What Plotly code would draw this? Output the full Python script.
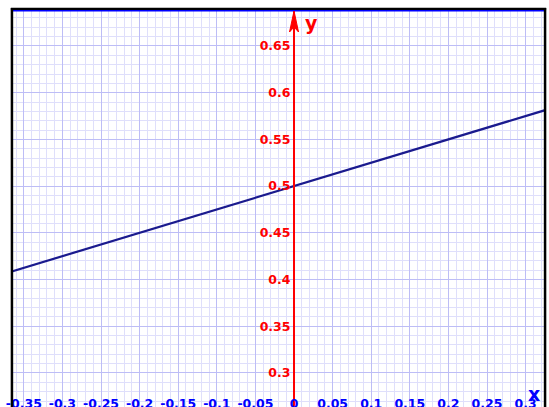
import plotly.graph_objects as go

# ---- data ----
x_tick_vals = [-0.35, -0.3, -0.25, -0.2, -0.15, -0.1, -0.05, 0, 0.05, 0.1, 0.15, 0.2, 0.25, 0.3]
x_tick_text = ["-0.35", "-0.3", "-0.25", "-0.2", "-0.15", "-0.1", "-0.05", "0",
               "0.05", "0.1", "0.15", "0.2", "0.25", "0.3"]
y_tick_vals = [0.3, 0.35, 0.4, 0.45, 0.5, 0.55, 0.6, 0.65]
y_tick_text = ["0.3", "0.35", "0.4", "0.45", "0.5", "0.55", "0.6", "0.65"]

line_x = [-0.365, 0.33]
line_y = [0.4088, 0.5825]

X_RANGE = [-0.364, 0.3238]
Y_RANGE = [0.2636, 0.6885]

W, H = 549, 407
ML, MR, MT, MB = 13, 5, 10, 0

major_grid = "#bdbdf6"
minor_grid = "#dfdffb"
font_fam = "DejaVu Sans"

fig = go.Figure()
fig.add_trace(go.Scatter(
    x=line_x, y=line_y, mode="lines",
    line=dict(color="#1a1a8e", width=2.2),
    hoverinfo="skip", showlegend=False,
))

fig.update_layout(
    width=W, height=H, autosize=False,
    margin=dict(l=ML, r=MR, t=MT, b=MB, pad=0, autoexpand=False),
    paper_bgcolor="white", plot_bgcolor="white",
    showlegend=False,
    xaxis=dict(
        range=X_RANGE, tickvals=x_tick_vals, ticktext=x_tick_text,
        showgrid=True, gridcolor=major_grid, gridwidth=1.3,
        minor=dict(dtick=0.01, tick0=0, showgrid=True, gridcolor=minor_grid, gridwidth=1),
        zeroline=False, showline=False, ticks="", automargin=False,
        ticklabelposition="inside", ticklabeloverflow="allow", ticklabelstandoff=-6,
        tickfont=dict(family=font_fam, size=12.5, color="#0000ff", weight="bold"),
        fixedrange=True,
    ),
    yaxis=dict(
        range=Y_RANGE, tickvals=y_tick_vals, ticktext=y_tick_text,
        showgrid=True, gridcolor=major_grid, gridwidth=1.3,
        minor=dict(dtick=0.01, tick0=0, showgrid=True, gridcolor=minor_grid, gridwidth=1),
        zeroline=False, ticks="", automargin=False,
        anchor="free", position=(0 - X_RANGE[0]) / (X_RANGE[1] - X_RANGE[0]),
        side="left",
        showline=True, linecolor="#ff0000", linewidth=2,
        tickfont=dict(family=font_fam, size=12.5, color="#ff0000", weight="bold"),
        fixedrange=True,
    ),
    shapes=[
        # frame: top, left, right (black) and blue top edge
        dict(type="line", xref="paper", yref="paper", x0=-0.004, x1=1.004, y0=1.0025, y1=1.0025,
             line=dict(color="black", width=2.5), layer="above"),
        dict(type="line", xref="paper", yref="paper", x0=0, x1=1, y0=0.998, y1=0.998,
             line=dict(color="#0000ff", width=1.5), layer="above"),
        dict(type="line", xref="paper", yref="paper", x0=-0.002, x1=-0.002, y0=-0.01, y1=1.005,
             line=dict(color="black", width=2.5), layer="above"),
        dict(type="line", xref="paper", yref="paper", x0=1.002, x1=1.002, y0=-0.01, y1=1.005,
             line=dict(color="black", width=2.5), layer="above"),
        # arrow head on the y axis
        dict(type="path", xref="x", yref="y", xsizemode="pixel", ysizemode="pixel",
             xanchor=0, yanchor=Y_RANGE[1],
             path="M0,-1 L-4.5,-22 L0,-17 L4.5,-22 Z",
             fillcolor="#ff0000", line=dict(color="#ff0000", width=1), layer="above"),
    ],
    annotations=[
        dict(text="y", xref="x", yref="y", x=0, y=Y_RANGE[1], xanchor="left", yanchor="middle",
             xshift=9, yshift=-13, showarrow=False,
             font=dict(family=font_fam, size=19, color="#ff0000", weight="bold")),
        dict(text="x", xref="x", yref="y", x=X_RANGE[1], y=Y_RANGE[0], xanchor="right", yanchor="middle",
             xshift=-2, yshift=13, showarrow=False,
             font=dict(family=font_fam, size=19, color="#0000ff", weight="bold")),
    ],
)

fig.write_html("out.html", config={"displayModeBar": False},
               post_script="document.body.style.margin='0';")
